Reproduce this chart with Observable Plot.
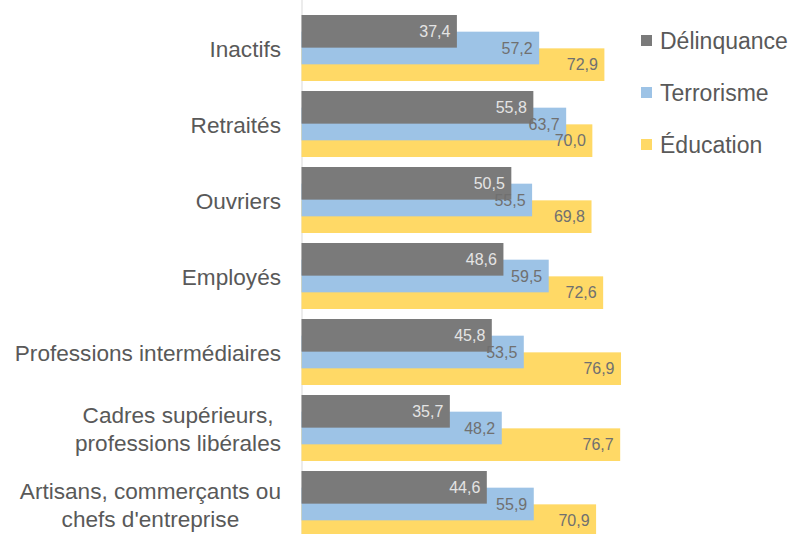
<!DOCTYPE html>
<html>
<head>
<meta charset="utf-8">
<script src="https://cdn.jsdelivr.net/npm/d3@7"></script>
<script src="https://cdn.jsdelivr.net/npm/@observablehq/plot@0.6"></script>
<style>
  html, body { margin: 0; padding: 0; background: #fff; overflow: hidden; }
  #wrap { position: relative; width: 790px; height: 534px; font-family: "Liberation Sans", Arial, sans-serif; }
  #legend { position: absolute; left: 641px; top: 15px; }
  .item { height: 52px; line-height: 52px; font-size: 23px; color: #595959; white-space: nowrap; }
  .sw { display: inline-block; width: 11px; height: 11px; margin-right: 8px; vertical-align: middle; position: relative; top: -2px; }
</style>
</head>
<body>
<div id="wrap"></div>
<script>
const categories = [
  "Inactifs",
  "Retraités",
  "Ouvriers",
  "Employés",
  "Professions intermédiaires",
  "Cadres supérieurs,\nprofessions libérales",
  "Artisans, commerçants ou\nchefs d'entreprise"
];
const series = ["Délinquance", "Terrorisme", "Éducation"];
const delinquance = [37.4, 55.8, 50.5, 48.6, 45.8, 35.7, 44.6];
const terrorisme  = [57.2, 63.7, 55.5, 59.5, 53.5, 48.2, 55.9];
const education   = [72.9, 70.0, 69.8, 72.6, 76.9, 76.7, 70.9];
const colors = ["#7a7a7a", "#9dc3e6", "#ffd966"];
const labelColors = ["#e4e4e4", "#707070", "#707070"];

const values = [delinquance, terrorisme, education];
const rows = values.map((vals, s) => categories.map((c, i) => ({cat: c, value: vals[i], series: series[s]})));

const step = 76.3, bw = 66.7;
const fmt = d => d.toFixed(1).replace(".", ",");
const font = "'Liberation Sans', Arial, sans-serif";

const insets = [
  {insetTop: 0, insetBottom: bw / 2},
  {insetTop: bw / 4, insetBottom: bw / 4},
  {insetTop: bw / 2, insetBottom: 0}
];
const dys = [-bw / 4, 0, bw / 4];

const marks = [Plot.ruleX([0], {stroke: "#d9d9d9", strokeWidth: 1})];
for (const s of [2, 1, 0]) {
  marks.push(Plot.barX(rows[s], {x: "value", y: "cat", fill: colors[s], ...insets[s]}));
}
for (const s of [0, 1, 2]) {
  marks.push(Plot.text(rows[s], {
    x: "value", y: "cat", text: d => fmt(d.value), dy: dys[s], dx: -7,
    textAnchor: "end", fill: labelColors[s], fontSize: 16, fontFamily: font
  }));
}
marks.push(Plot.text(categories, {
  x: () => 0, y: d => d, text: d => d, dx: -21, textAnchor: "end",
  fill: "#595959", fontSize: 22.6, lineHeight: 1.24, fontFamily: font
}));

const chart = Plot.plot({
  width: 790, height: 534,
  marginLeft: 0, marginRight: 0, marginTop: 0, marginBottom: 0,
  x: {domain: [0, 90], range: [301.5, 301.5 + 90 * 4.155], axis: null},
  y: {domain: categories, range: [14, 14 + 6 * step + bw], paddingInner: 1 - bw / step, paddingOuter: 0, axis: null},
  style: {fontFamily: font, overflow: "hidden", background: "#fff"},
  marks
});
const wrap = document.getElementById("wrap");
wrap.appendChild(chart);

chart.querySelectorAll("text").forEach(t => {
  const spans = t.querySelectorAll("tspan");
  if (spans.length > 1) {
    const w = t.getBBox().width;
    t.setAttribute("text-anchor", "middle");
    const tr = t.getAttribute("transform") || "";
    t.setAttribute("transform", tr + ` translate(${-w / 2},0)`);
  }
});

const legend = document.createElement("div");
legend.id = "legend";
series.forEach((s, i) => {
  const it = document.createElement("div");
  it.className = "item";
  const sw = document.createElement("span");
  sw.className = "sw";
  sw.style.background = colors[i];
  it.appendChild(sw);
  it.appendChild(document.createTextNode(s));
  legend.appendChild(it);
});
wrap.appendChild(legend);
</script>
</body>
</html>
